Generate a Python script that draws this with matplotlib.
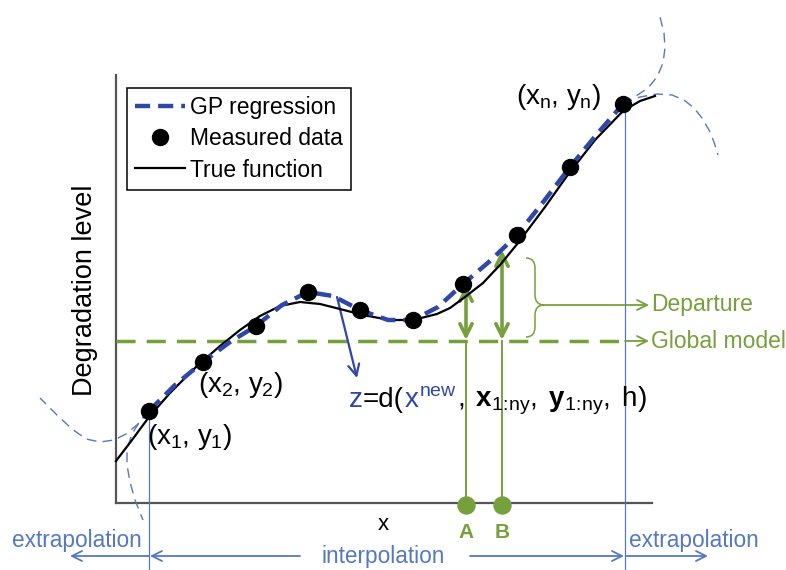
import matplotlib.pyplot as plt
from matplotlib.path import Path
from matplotlib.patches import PathPatch
from matplotlib.offsetbox import TextArea, HPacker, AnnotationBbox

plt.rcParams['font.family'] = ['Liberation Sans', 'DejaVu Sans']
plt.rcParams['mathtext.fontset'] = 'custom'
plt.rcParams['mathtext.rm'] = 'Liberation Sans'
plt.rcParams['mathtext.it'] = 'Liberation Sans'
plt.rcParams['mathtext.bf'] = 'Liberation Sans:bold'

# sketch coordinates (x to the right, y measured downward from the top)
meas_x = [149, 203, 256, 308, 360, 413, 463, 517, 570, 623]
meas_y = [411, 362, 326, 292, 310, 320, 284, 235, 167, 104]

true_x = [116, 132, 149, 170, 197, 220, 240, 260, 280, 300, 320, 340, 363,
          390, 413, 437, 450, 465, 483, 500, 518, 545, 567, 595, 623, 640, 655]
true_y = [461, 440, 417, 393, 366, 346, 330, 316, 306, 302, 304, 309, 315,
          320, 320, 314, 308, 297, 283, 265, 243, 207, 176, 140, 111, 101, 96]

gp_x = [149, 175, 203, 230, 256, 282, 308, 333, 360, 388, 413, 438, 463,
        490, 517, 544, 570, 597, 623]
gp_y = [411, 385, 362, 342, 326, 305, 292, 296, 310, 320, 320, 307, 284,
        261, 235, 201, 167, 134, 104]

# extrapolation branches beyond the first and last samples
left_up_x = [149, 138, 126, 114, 100, 86, 72, 57, 40]
left_up_y = [411, 424, 434, 440, 442, 439, 429, 415, 398]
left_down_x = [149, 140, 132, 127, 127, 130, 135, 143]
left_down_y = [411, 421, 434, 449, 465, 482, 500, 520]
right_up_x = [623, 636, 648, 657, 663, 665, 664, 660]
right_up_y = [104, 96, 88, 77, 63, 48, 33, 17]
right_down_x = [623, 640, 657, 672, 684, 694, 702, 709, 714, 718]
right_down_y = [104, 97, 94, 95, 100, 108, 118, 130, 142, 155]

global_level = 341
site_x = [466, 502]
site_top = [285, 250]
site_names = ['A', 'B']

blue = '#2f47a6'
lblue = '#5578c2'
green = '#76a03c'
gray = '#555555'

fig = plt.figure(figsize=(7.86, 5.7), dpi=100)
ax = fig.add_axes([0, 0, 1, 1])
ax.set_xlim(0, 786)
ax.set_ylim(570, 0)
ax.axis('off')

# axes of the sketch
ax.plot([116, 116], [75, 503], color=gray, lw=1.6)
ax.plot([116, 652], [503, 503], color=gray, lw=1.6)

# interpolation range limits
ax.plot([149, 149], [meas_y[0], 570], color=lblue, lw=0.9)
ax.plot([625, 625], [meas_y[-1], 570], color=lblue, lw=0.9)

for bx, by in [(left_up_x, left_up_y), (left_down_x, left_down_y),
               (right_up_x, right_up_y), (right_down_x, right_down_y)]:
    ax.plot(bx, by, color=lblue, lw=1.0, ls=(0, (7, 4.5)))

# global model level
ax.plot([116, 625], [global_level, global_level], color=green, lw=2.5,
        ls=(0, (5.5, 3.2)))
ax.annotate('', xy=(649, global_level), xytext=(625, global_level),
            arrowprops=dict(arrowstyle='->', color=green, lw=1.3,
                            mutation_scale=18, shrinkA=0, shrinkB=0))
ax.text(651, global_level, 'Global model', color=green, fontsize=16.5,
        va='center', ha='left')

# departures at A and B
for sx, top, name in zip(site_x, site_top, site_names):
    ax.plot([sx, sx], [global_level, 505], color=green, lw=1.4)
    ax.annotate('', xy=(sx, top), xytext=(sx, global_level - 1),
                arrowprops=dict(arrowstyle='<->', color=green, lw=2.6,
                                mutation_scale=22, shrinkA=0, shrinkB=0))
    ax.text(sx, 532, name, color=green, fontsize=15, fontweight='bold',
            ha='center', va='center')
ax.scatter(site_x, [505, 505], s=150, color=green, zorder=5)

brace = Path([(526, 258), (535, 258), (535, 268), (535, 295), (535, 305),
              (544, 305), (535, 305), (535, 315), (535, 327), (535, 337),
              (526, 337)],
             [Path.MOVETO, Path.CURVE3, Path.CURVE3, Path.LINETO, Path.CURVE3,
              Path.CURVE3, Path.CURVE3, Path.CURVE3, Path.LINETO, Path.CURVE3,
              Path.CURVE3])
ax.add_patch(PathPatch(brace, fill=False, edgecolor=green, lw=1.1))
ax.annotate('', xy=(649, 305), xytext=(544, 305),
            arrowprops=dict(arrowstyle='->', color=green, lw=1.3,
                            mutation_scale=18, shrinkA=0, shrinkB=0))
ax.text(651, 305, 'Departure', color=green, fontsize=16.5,
        va='center', ha='left')

# curves and samples
true_line, = ax.plot(true_x, true_y, color='black', lw=1.6,
                     label='True function', zorder=6)
gp_line, = ax.plot(gp_x, gp_y, color=blue, lw=3.2, ls=(0, (3.4, 1.8)),
                   label='GP regression', zorder=7)
pts, = ax.plot(meas_x, meas_y, 'o', color='black', ms=11.5,
               label='Measured data', zorder=8)

leg = ax.legend([gp_line, pts, true_line],
                ['GP regression', 'Measured data', 'True function'],
                loc='upper left', bbox_to_anchor=(127 / 786, 1 - 88 / 570),
                borderaxespad=0, fontsize=16.5, frameon=True, fancybox=False,
                edgecolor='black', framealpha=1, handlelength=2.2,
                handletextpad=0.2, labelspacing=0.36, borderpad=0.35,
                numpoints=1)
leg.get_frame().set_linewidth(1.1)

# sample labels
ax.text(147, 437, r'($x_1$, $y_1$)', fontsize=20, ha='left', va='center')
ax.text(198, 385, r'($x_2$, $y_2$)', fontsize=20, ha='left', va='center')
ax.text(516, 97, r'($x_n$, $y_n$)', fontsize=20, ha='left', va='center')

# prediction pointer and formula
ax.annotate('', xy=(357, 378), xytext=(337, 297),
            arrowprops=dict(arrowstyle='->', color=blue, lw=1.6,
                            mutation_scale=20, shrinkA=0, shrinkB=0))
pieces = [('z', blue), ('=d(', 'black'), (r'$x^{new}$', blue),
          (r'$,\;\mathbf{x}_{1\!:\!ny},\;\mathbf{y}_{1\!:\!ny},\;h)$',
           'black')]
box = HPacker(children=[TextArea(s, textprops=dict(color=c, fontsize=20))
                        for s, c in pieces], sep=0, pad=0, align='baseline')
ax.add_artist(AnnotationBbox(box, (349, 401), xycoords='data',
                             box_alignment=(0, 0.5), frameon=False, pad=0))

ax.text(85, 290, 'Degradation level', fontsize=19.5, rotation=90,
        ha='center', va='center')
ax.text(383, 525, 'x', fontsize=16, ha='center', va='center')

# interpolation / extrapolation ranges
for x0, x1 in [(300, 150), (470, 624), (149, 70), (626, 708)]:
    ax.annotate('', xy=(x1, 556), xytext=(x0, 556),
                arrowprops=dict(arrowstyle='->', color=lblue, lw=1.3,
                                mutation_scale=18, shrinkA=0, shrinkB=0))
ax.text(383, 557, 'interpolation', color=lblue, fontsize=16.3,
        ha='center', va='center')
ax.text(77, 540, 'extrapolation', color=lblue, fontsize=16.3,
        ha='center', va='center')
ax.text(694, 540, 'extrapolation', color=lblue, fontsize=16.3,
        ha='center', va='center')

fig.savefig('out.png', dpi=100)
